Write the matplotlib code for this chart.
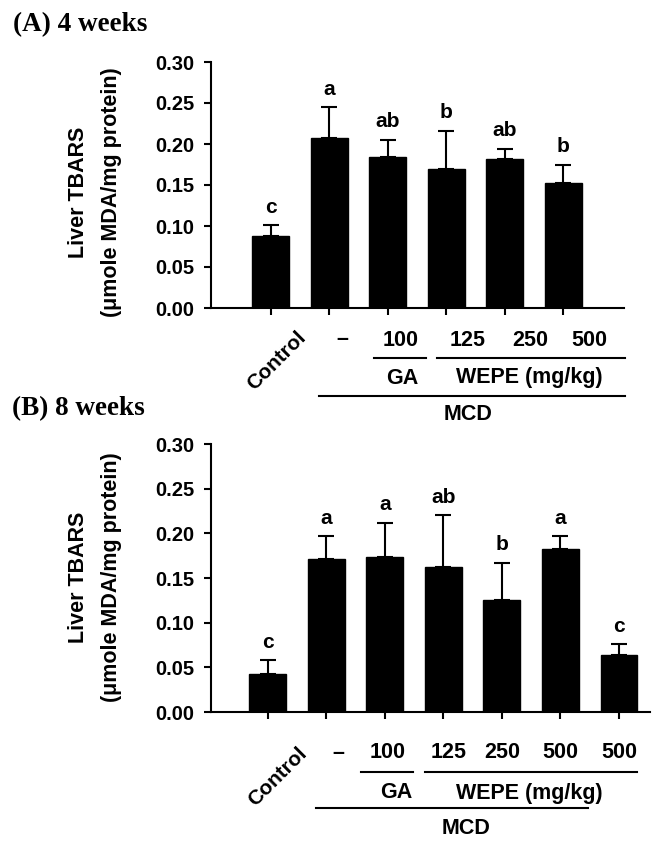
import numpy as np
import matplotlib
matplotlib.use("Agg")
import matplotlib.pyplot as plt
from matplotlib.transforms import blended_transform_factory

# ---- data ----
dose_a = ["\u2013", "100", "125", "250", "500"]
mean_a = [0.088, 0.207, 0.184, 0.169, 0.182, 0.153]
sem_a = [0.013, 0.038, 0.021, 0.047, 0.012, 0.022]
sig_a = ["c", "a", "ab", "b", "ab", "b"]

dose_b = ["\u2013", "100", "125", "250", "500", "500"]
mean_b = [0.043, 0.171, 0.173, 0.162, 0.125, 0.183, 0.064]
sem_b = [0.015, 0.026, 0.039, 0.058, 0.042, 0.014, 0.012]
sig_b = ["c", "a", "a", "ab", "b", "a", "c"]

yticks = [0.00, 0.05, 0.10, 0.15, 0.20, 0.25, 0.30]

plt.rcParams['font.family'] = ['Liberation Sans', 'DejaVu Sans']
plt.rcParams['font.weight'] = 'bold'

W, H = 664, 850
fig = plt.figure(figsize=(W / 100, H / 100), dpi=100)


def add_axes(left, right, top, bottom):
    return fig.add_axes([left / W, 1 - bottom / H, (right - left) / W, (bottom - top) / H])


def draw_bars(ax, means, sems, letters, xlim):
    x = np.arange(len(means))
    ax.bar(x, means, width=0.63, color="black", edgecolor="black", zorder=2)
    ax.errorbar(x, means, yerr=[np.zeros(len(sems)), sems], fmt="none",
                ecolor="black", elinewidth=1.5, capsize=6, capthick=1.5, zorder=1)
    for xi, m, s, lab in zip(x, means, sems, letters):
        ax.annotate(lab, (xi, m + s), xytext=(0, 9), textcoords="offset points",
                    ha="center", va="baseline", fontsize=15, fontweight="bold")
    ax.set_xlim(*xlim)
    ax.set_ylim(0, 0.30)
    ax.set_yticks(yticks)
    ax.set_yticklabels(["%.2f" % t for t in yticks])
    ax.set_xticks(x)
    ax.set_xticklabels([])
    for s in ["top", "right"]:
        ax.spines[s].set_visible(False)
    for s in ["left", "bottom"]:
        ax.spines[s].set_linewidth(1.5)
    ax.tick_params(axis="both", direction="out", length=5, width=1.5,
                   labelsize=14.5, pad=7)


def draw_groups(ax, axis_h, doses, dose_x, ctrl_off, offs, ga, wepe, mcd, txt_x):
    tr = blended_transform_factory(ax.transData, ax.transAxes)
    fy = lambda px: -px / axis_h
    ax.text(ctrl_off[0], fy(ctrl_off[1]), "Control", rotation=45, rotation_mode="anchor",
            ha="right", va="center", fontsize=15, fontweight="bold", transform=tr)
    for xd, lab in zip(dose_x, doses):
        ax.text(xd, fy(offs[0]), lab, ha="center", va="center", fontsize=15.5,
                fontweight="bold", transform=tr)
    for seg in (ga, wepe):
        ax.plot(seg, [fy(offs[1])] * 2, color="black", lw=1.5, transform=tr, clip_on=False)
    ax.plot(mcd, [fy(offs[3])] * 2, color="black", lw=1.5, transform=tr, clip_on=False)
    ax.text(txt_x[0], fy(offs[2]), "GA", ha="center", va="center", fontsize=15.5,
            fontweight="bold", transform=tr)
    ax.text(txt_x[1], fy(offs[2]), "WEPE (mg/kg)", ha="center", va="center", fontsize=15.5,
            fontweight="bold", transform=tr)
    ax.text(txt_x[2], fy(offs[4]), "MCD", ha="center", va="center", fontsize=15.5,
            fontweight="bold", transform=tr)


# ---- panel A ----
axA = add_axes(211, 624, 62, 308)
draw_bars(axA, mean_a, sem_a, sig_a, (-1.02, 6.04))
draw_groups(axA, 246, dose_a, [1.22, 2.23, 3.36, 4.43, 5.45], (0.55, 26),
            (32, 50, 70, 88, 107), (1.77, 2.66), (2.85, 6.06), (0.83, 6.06),
            (2.25, 4.42, 3.37))

# ---- panel B ----
axB = add_axes(211, 650, 444, 712)
draw_bars(axB, mean_b, sem_b, sig_b, (-0.97, 6.53))
draw_groups(axB, 268, dose_b, [1.2, 2.04, 3.09, 4.0, 5.0, 6.0], (0.62, 38),
            (41, 60, 81, 96, 116), (1.59, 2.48), (2.68, 6.31), (0.82, 5.47),
            (2.2, 4.46, 3.38))

# ---- y labels and panel titles ----
for yc in (192, 577):
    fig.text(79 / W, 1 - yc / H, "Liver TBARS", rotation=90, ha="center", va="center",
             fontsize=15.5, fontweight="bold")
    fig.text(111 / W, 1 - yc / H, "(\u03bcmole MDA/mg protein)", rotation=90, ha="center",
             va="center", fontsize=15.5, fontweight="bold")

fig.text(13 / W, 1 - 25 / H, "(A) 4 weeks", ha="left", va="center", fontsize=19.5,
         fontweight="bold", family="Liberation Serif")
fig.text(12 / W, 1 - 409 / H, "(B) 8 weeks", ha="left", va="center", fontsize=19.5,
         fontweight="bold", family="Liberation Serif")

fig.savefig("out.png", dpi=100)
